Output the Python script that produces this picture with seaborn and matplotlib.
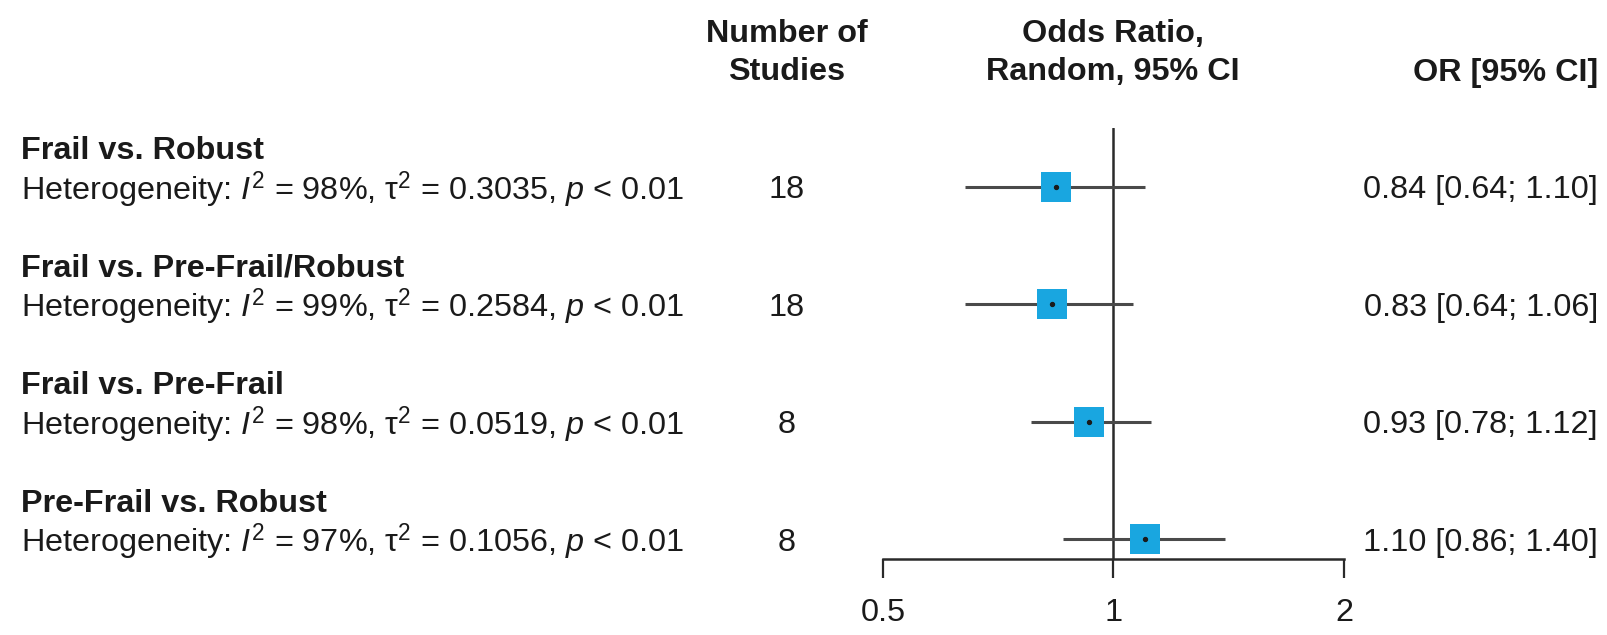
import pandas as pd
import seaborn as sns
import numpy as np
import matplotlib.pyplot as plt
from matplotlib.transforms import blended_transform_factory

# data
groups = ['Frail vs. Robust', 'Frail vs. Pre-Frail/Robust', 'Frail vs. Pre-Frail', 'Pre-Frail vs. Robust']
i2 = ['98%', '99%', '98%', '97%']
tau2 = ['0.3035', '0.2584', '0.0519', '0.1056']
n_studies = [18, 18, 8, 8]
odds = [0.84, 0.83, 0.93, 1.10]
lower = [0.64, 0.64, 0.78, 0.86]
upper = [1.10, 1.06, 1.12, 1.40]
xticks = [0.5, 1, 2]
xtick_labels = ['0.5', '1', '2']

sns.set_theme(style='white')
plt.rcParams['font.family'] = ['Liberation Sans', 'DejaVu Sans']
plt.rcParams['mathtext.fontset'] = 'custom'
plt.rcParams['mathtext.rm'] = 'Liberation Sans'
plt.rcParams['mathtext.it'] = 'Liberation Sans:italic'
plt.rcParams['mathtext.bf'] = 'Liberation Sans:bold'

W, H = 1608, 635
fs = 23.3
txt = '#1a1a1a'
fig = plt.figure(figsize=(W / 100, H / 100), dpi=100)
# forest panel: x from 0.5 (px 883) to 2 (px 1344), y from 128 to 559
ax = fig.add_axes([883 / W, (H - 559) / H, (1344 - 883) / W, (559 - 128) / H])

df = pd.DataFrame({'group': groups, 'or': odds, 'lo': lower, 'hi': upper,
                   'pos': np.arange(len(groups), 0, -1)})

ax.hlines(df.pos, df.lo, df.hi, color='#4a4a4a', lw=2.2, zorder=2)
sns.scatterplot(data=df, x='or', y='pos', marker='s', s=440, color='#19a6e0',
                linewidth=0, ax=ax, zorder=3)
ax.scatter(df['or'], df['pos'], s=8, color='#1a1a1a', zorder=4)
ax.axvline(1, color='#2a2a2a', lw=1.8, zorder=1)

ax.set_xscale('log', base=2)
ax.set_xlim(0.5, 2)
ax.set_ylim(0.83, 4.5)
ax.set_xticks(xticks)
ax.set_xticklabels(xtick_labels)
ax.minorticks_off()
ax.set_yticks([])
ax.set_xlabel('')
ax.set_ylabel('')
for s in ['top', 'right', 'left']:
    ax.spines[s].set_visible(False)
ax.spines['bottom'].set_color('#2a2a2a')
ax.spines['bottom'].set_linewidth(1.8)
ax.tick_params(axis='x', length=14, width=1.6, color='#2a2a2a', pad=14,
               labelsize=fs, labelcolor=txt, bottom=True)

# text columns use figure-pixel x and data y
tr = blended_transform_factory(fig.transFigure, ax.transData)
dy = -0.03
for k, r in df.iterrows():
    ax.text(21 / W, r.pos + 0.33 + dy, r.group, transform=tr, fontsize=fs,
            fontweight='bold', color=txt, va='center', ha='left')
    het = ('Heterogeneity: $\\mathit{I}^{2}$ = ' + i2[k] + ', $\\mathrm{τ}^{2}$ = '
           + tau2[k] + ', $\\mathit{p}$ < 0.01')
    ax.text(21 / W, r.pos + dy, het, transform=tr, fontsize=fs, color=txt,
            va='center', ha='left')
    ax.text(787 / W, r.pos + dy, str(n_studies[k]), transform=tr, fontsize=fs,
            color=txt, va='center', ha='center')
    ax.text(1598 / W, r.pos + dy, f'{odds[k]:.2f} [{lower[k]:.2f}; {upper[k]:.2f}]',
            transform=tr, fontsize=fs, color=txt, va='center', ha='right')

# column headers
fig.text(787 / W, 1 - 53 / H, 'Number of\nStudies', fontsize=fs, fontweight='bold',
         color=txt, ha='center', va='center', linespacing=1.32)
fig.text(1113 / W, 1 - 53 / H, 'Odds Ratio,\nRandom, 95% CI', fontsize=fs,
         fontweight='bold', color=txt, ha='center', va='center', linespacing=1.32)
fig.text(1598 / W, 1 - 73 / H, 'OR [95% CI]', fontsize=fs, fontweight='bold',
         color=txt, ha='right', va='center')

fig.savefig('out.png', dpi=100, facecolor='white')
